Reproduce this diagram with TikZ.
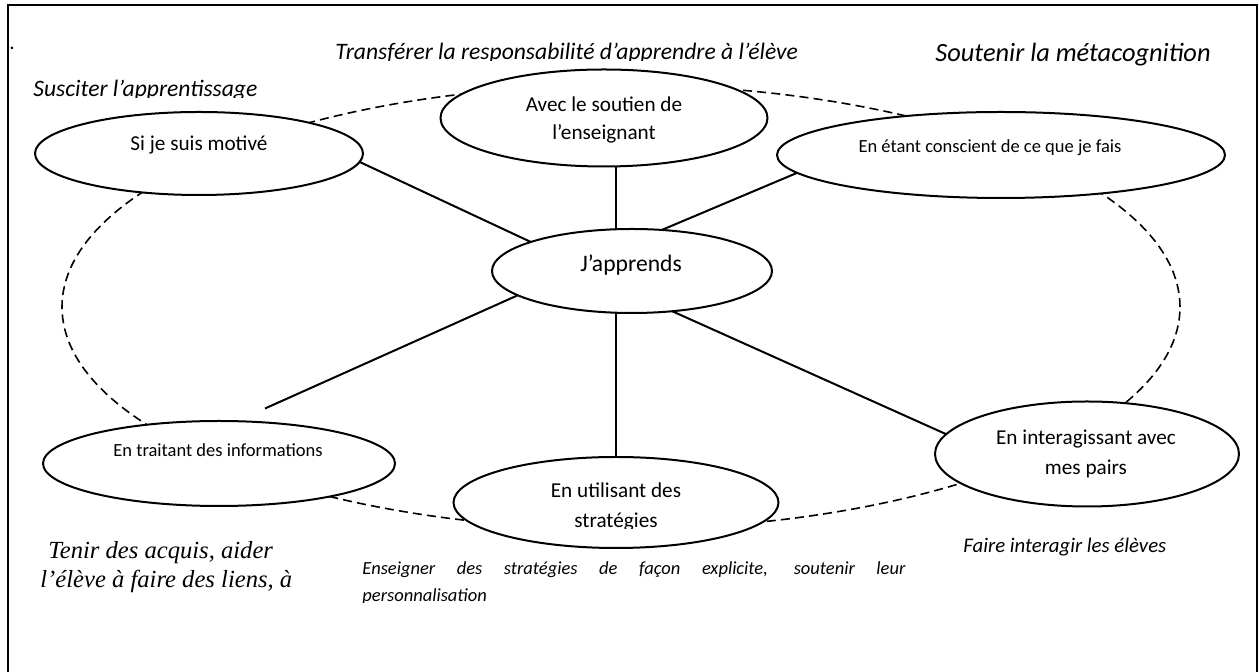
\documentclass[tikz,border=0pt]{standalone}
\usepackage{fontspec}
\setmainfont{Carlito}
\newfontfamily\timesf{Liberation Serif}
\usetikzlibrary{shapes.geometric}
\begin{document}
\begin{tikzpicture}[x=0.5pt,y=-0.5pt,
  bubble/.style={draw, ellipse, fill=white, line width=1pt, inner sep=0pt, outer sep=0pt},
  link/.style={line width=1pt},
  loopline/.style={dash pattern=on 4.5pt off 2.6pt, line width=0.8pt},
  lbl/.style={inner sep=0pt, anchor=base, font=\fontsize{10.6}{14}\selectfont},
  small/.style={inner sep=0pt, anchor=base, font=\fontsize{9.25}{12}\selectfont},
  head/.style={inner sep=0pt, anchor=base west, font=\fontsize{11.8}{14}\selectfont\itshape},
  serifhead/.style={inner sep=0pt, anchor=base west, font=\fontsize{12.3}{14}\selectfont\timesf\itshape}]
\useasboundingbox (0,0) rectangle (1259,672);
% frame
\draw[line width=1pt] (8,672) -- (8,5) -- (1257,5) -- (1257,672);
\node[inner sep=0pt, anchor=base, font=\fontsize{10.6}{14}\selectfont] (dot) at (12,50) {.};
% dashed loop
\draw[loopline] (621,307) ellipse [x radius=279.5pt, y radius=111pt];
% ellipses
\node[bubble, minimum width=164pt, minimum height=41.5pt] (motive) at (199,153.5) {};
\node[bubble, minimum width=163.5pt, minimum height=48.5pt] (avec) at (604,118) {};
\node[bubble, minimum width=224pt, minimum height=43pt] (consc) at (1001,155) {};
\node[bubble, minimum width=140pt, minimum height=42pt] (japp) at (632,271) {};
\node[bubble, minimum width=176pt, minimum height=42.5pt] (trait) at (219,463.5) {};
\node[bubble, minimum width=162.5pt, minimum height=45.5pt] (utili) at (616,502.5) {};
\node[bubble, minimum width=152pt, minimum height=52.5pt] (inter) at (1087,454) {};
% connectors
\coordinate (freeend) at (265,408.5);
\draw[link] (motive.-3) -- (japp.164.6);
\draw[link] (utili.north |- avec.south) -- (utili.north |- japp.north);
\draw[link] (consc.-175.9) -- (japp.54.5);
\draw[link] (japp.192) -- (freeend);
\draw[link] (utili.north |- japp.south) -- (utili.north);
\draw[link] (japp.-45.7) -- (inter.172.8);
% labels
\node[lbl] (tmotive) at (199,151) {Si je suis motivé};
\node[lbl] (tavec1) at (604,112) {Avec le soutien de};
\node[lbl] (tavec2) at (604,140) {l’enseignant};
\node[small] (tconsc) at (990,153) {En étant conscient de ce que je fais};
\node[inner sep=0pt, anchor=base, font=\fontsize{11.8}{14}\selectfont] (tjapp) at (631,272) {J’apprends};
\node[small] (ttrait) at (218,457) {En traitant des informations};
\node[lbl] (tinter1) at (1086,445) {En interagissant avec};
\node[lbl] (tinter2) at (1086,475) {mes pairs};
\node[lbl] (tutili1) at (616,498) {En utilisant des};
\begin{scope}
\clip (500,505) rectangle (740,528.5);
\node[lbl] (tutili2) at (616,528) {stratégies};
\end{scope}
% headings
\begin{scope}
\clip (20,60) rectangle (420,97.8);
\node[head] (hsusc) at (33,97) {Susciter l’apprentissage};
\end{scope}
\begin{scope}
\clip (300,20) rectangle (860,60.8);
\node[head] (htrans) at (335,60) {Transférer la responsabilité d’apprendre à l’élève};
\end{scope}
\node[inner sep=0pt, anchor=base west, font=\fontsize{13.2}{16}\selectfont\itshape] (hsout) at (935,62) {Soutenir la métacognition};
\node[inner sep=0pt, anchor=base west, font=\fontsize{10.4}{13}\selectfont\itshape] (hfaire) at (963,553) {Faire interagir les élèves};
\node[inner sep=0pt, anchor=base west, font=\fontsize{9.25}{12}\selectfont\itshape] (hens1) at (362,575) {\makebox[271.5pt][s]{Enseigner des stratégies de façon explicite, soutenir leur}};
\begin{scope}
\clip (340,585) rectangle (600,602.5);
\node[inner sep=0pt, anchor=base west, font=\fontsize{9.25}{12}\selectfont\itshape] (hens2) at (362,602) {personnalisation};
\end{scope}
\node[serifhead] (hten1) at (48,559) {Tenir des acquis, aider};
\node[serifhead] (hten2) at (40,588) {l’élève à faire des liens, à};
\end{tikzpicture}
\end{document}
